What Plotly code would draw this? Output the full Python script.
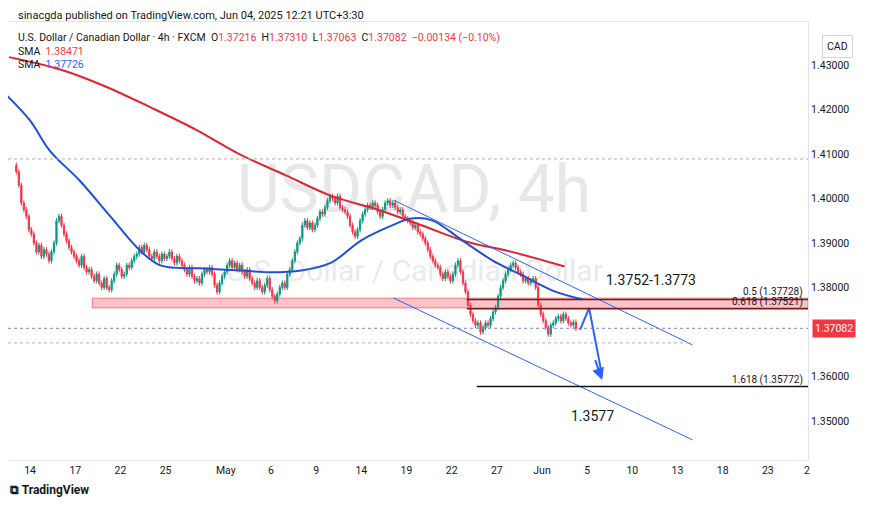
import plotly.graph_objects as go

# daily groups of six 4h closes (trading days starting Fri Apr 11 2025)
closes = [
 1.4060,1.4030,1.3990,1.3975,1.3960,1.3930,
 1.3920,1.3900,1.3880,1.3895,1.3870,1.3885,
 1.3875,1.3860,1.3880,1.3900,1.3950,1.3960,
 1.3940,1.3920,1.3905,1.3890,1.3880,1.3870,
 1.3860,1.3850,1.3870,1.3845,1.3835,1.3840,
 1.3825,1.3815,1.3830,1.3810,1.3800,1.3820,
 1.3800,1.3795,1.3815,1.3830,1.3850,1.3840,
 1.3825,1.3830,1.3850,1.3845,1.3860,1.3870,
 1.3875,1.3890,1.3880,1.3895,1.3885,1.3870,
 1.3865,1.3880,1.3870,1.3860,1.3875,1.3865,
 1.3870,1.3880,1.3865,1.3855,1.3870,1.3860,
 1.3850,1.3840,1.3830,1.3845,1.3825,1.3815,
 1.3820,1.3810,1.3830,1.3840,1.3835,1.3845,
 1.3830,1.3805,1.3790,1.3810,1.3825,1.3835,
 1.3850,1.3860,1.3845,1.3855,1.3840,1.3850,
 1.3835,1.3825,1.3840,1.3820,1.3810,1.3800,
 1.3815,1.3800,1.3790,1.3805,1.3820,1.3795,
 1.3780,1.3770,1.3785,1.3800,1.3810,1.3800,
 1.3830,1.3840,1.3860,1.3880,1.3900,1.3910,
 1.3940,1.3950,1.3935,1.3945,1.3930,1.3940,
 1.3955,1.3970,1.3965,1.3980,1.3995,1.4005,
 1.4000,1.3990,1.4005,1.3980,1.3975,1.3970,
 1.3960,1.3940,1.3925,1.3915,1.3930,1.3950,
 1.3965,1.3975,1.3985,1.3980,1.3990,1.3985,
 1.3970,1.3960,1.3975,1.3990,1.3995,1.3985,
 1.3990,1.3980,1.3970,1.3975,1.3960,1.3955,
 1.3950,1.3945,1.3935,1.3940,1.3925,1.3920,
 1.3910,1.3900,1.3885,1.3870,1.3860,1.3850,
 1.3845,1.3830,1.3820,1.3835,1.3825,1.3815,
 1.3830,1.3850,1.3860,1.3835,1.3810,1.3790,
 1.3760,1.3740,1.3725,1.3715,1.3720,1.3700,
 1.3710,1.3720,1.3715,1.3730,1.3745,1.3755,
 1.3780,1.3800,1.3815,1.3830,1.3840,1.3850,
 1.3855,1.3845,1.3835,1.3830,1.3815,1.3820,
 1.3810,1.3815,1.3820,1.3800,1.3760,1.3740,
 1.3725,1.3710,1.3695,1.3715,1.3720,1.3730,
 1.3735,1.3725,1.3740,1.3730,1.3720,1.3716,
 1.3722,1.3708,
]
first_open = 1.4075
sma_red_days = [-0.4,3,6,9,12,15,18,21,24,27,30,33,36.5]
sma_red = [1.4318,1.4290,1.4252,1.4205,1.4155,1.4098,1.4052,1.4006,1.3976,1.3940,1.3903,1.3880,1.3847]
sma_blue_days = [-0.5,1,2.3,4.3,6.3,8.3,9.7,12.3,15,17,19,21,23,25,26.3,27.7,29.7,31.7,33.7,35.7,37.7]
sma_blue = [1.4230,1.4175,1.4108,1.4040,1.3961,1.3883,1.3849,1.3843,1.3838,1.3834,1.3838,1.3856,1.3906,1.3939,1.3955,1.3951,1.3906,1.3861,1.3827,1.3793,1.3773]
tick_days = [1,4,7,10,14,17,20,23,26,29,32,35,38,41,44,47,50,52.6]
tick_text = ["14","17","22","25","May","6","9","14","19","22","27","Jun","5","10","13","18","23","2"]
price_ticks = [1.35,1.36,1.38,1.39,1.40,1.41,1.42,1.43]

x, o, h, l, c = [], [], [], [], []
prev = first_open
for i, v in enumerate(closes):
    x.append(i // 6 + (i % 6 + 0.5) / 6)
    o.append(prev); c.append(v)
    h.append(max(prev, v) + 0.0006); l.append(min(prev, v) - 0.0006)
    prev = v

fig = go.Figure()
X0, X1 = -0.47, 52.67
fig.add_shape(type="rect", x0=5.13, x1=X1, y0=1.3754, y1=1.3776, fillcolor="rgba(242,54,69,0.3)", line=dict(color="rgba(242,54,69,0.6)", width=1), layer="below")
for yv, col, dash, xa, xb in [(1.4089,"#b0b0b0","dot",X0,X1),(1.37082,"#8080c0","dot",X0,X1),(1.36753,"#b0b0b0","dot",X0,45)]:
    fig.add_shape(type="line", x0=xa, x1=xb, y0=yv, y1=yv, line=dict(color=col, width=1, dash=dash))
fig.add_trace(go.Candlestick(x=x, open=o, high=h, low=l, close=c,
    increasing=dict(line=dict(color="#089981", width=1), fillcolor="#089981"),
    decreasing=dict(line=dict(color="#f23645", width=1), fillcolor="#f23645"),
    whiskerwidth=0, showlegend=False, hoverinfo="skip"))
fig.add_trace(go.Scatter(x=sma_red_days, y=sma_red, mode="lines", line=dict(color="#e0242f", width=2, shape="spline"), showlegend=False))
fig.add_trace(go.Scatter(x=sma_blue_days, y=sma_blue, mode="lines", line=dict(color="#1e4fd6", width=2, shape="spline"), showlegend=False))
# drawings
fig.add_trace(go.Scatter(x=[25.13,45], y=[1.39967,1.36708], mode="lines", line=dict(color="#2962ff", width=1), showlegend=False))
fig.add_trace(go.Scatter(x=[25.13,45], y=[1.37764,1.34573], mode="lines", line=dict(color="#2962ff", width=1), showlegend=False))
fig.add_trace(go.Scatter(x=[37.53,38.13,39.0], y=[1.37045,1.37539,1.3600], mode="lines", line=dict(color="#2962ff", width=2), showlegend=False))
fig.add_annotation(x=39.0, y=1.3592, ax=38.5, ay=1.3640, xref="x", yref="y", axref="x", ayref="y", showarrow=True, arrowhead=2, arrowsize=1.2, arrowwidth=2, arrowcolor="#2962ff", text="")
for yv, col in [(1.37728,"#7a1a1a"),(1.37521,"#7a1a1a")]:
    fig.add_shape(type="line", x0=30, x1=X1, y0=yv, y1=yv, line=dict(color=col, width=1.5))
fig.add_shape(type="line", x0=30.67, x1=X1, y0=1.35772, y1=1.35772, line=dict(color="#111", width=1.5))

def ann(xv, yv, t, size=11, color="#131722", bold=False, xanchor="left", xref="x", yref="y"):
    fig.add_annotation(x=xv, y=yv, xref=xref, yref=yref, text=f"<b>{t}</b>" if bold else t, showarrow=False,
                       font=dict(size=size, color=color), xanchor=xanchor)
ann(39.1, 1.3816, "1.3752-1.3773", 14)
ann(52.5, 1.3790, "0.5 (1.37728)", 10, xanchor="right")
ann(52.5, 1.3768, "0.618 (1.37521)", 10, xanchor="right")
ann(52.5, 1.3593, "1.618 (1.35772)", 10, xanchor="right")
ann(36.8, 1.3510, "1.3577", 14)
ann(26.5, 1.4020, "USDCAD, 4h", 66, color="rgba(120,123,134,0.18)", xanchor="center")
ann(26.5, 1.3838, "U.S. Dollar / Canadian Dollar", 30, color="rgba(120,123,134,0.18)", xanchor="center")

fig.add_annotation(x=0.01, y=1.0, xref="paper", yref="paper", yshift=-2, xanchor="left", yanchor="bottom", showarrow=False, text="sinacgda published on TradingView.com, Jun 04, 2025 12:21 UTC+3:30", font=dict(size=11, color="#131722"))
fig.add_annotation(x=0.01, y=0.985, xref="paper", yref="paper", xanchor="left", yanchor="top", align="left", showarrow=False,
    text="U.S. Dollar / Canadian Dollar · 4h · FXCM  O<span style='color:#f23645'>1.37216</span>  H<span style='color:#f23645'>1.37310</span>  L<span style='color:#f23645'>1.37063</span>  C<span style='color:#f23645'>1.37082</span>  <span style='color:#f23645'>−0.00134 (−0.10%)</span><br>SMA  <span style='color:#f23645'>1.38471</span><br>SMA  <span style='color:#2962ff'>1.37726</span>",
    font=dict(size=10.5, color="#131722"))
fig.add_annotation(x=1.0, y=1.37082, xref="paper", yref="y", xanchor="left", showarrow=False, xshift=4, text="1.37082", bgcolor="#f23645", font=dict(size=10.5, color="white"), borderpad=2)
fig.add_annotation(x=1.0, y=0.97, xref="paper", yref="paper", xanchor="left", showarrow=False, xshift=14, text="CAD", bordercolor="#d1d4dc", borderwidth=1, borderpad=4, font=dict(size=10.5, color="#131722"))
fig.add_annotation(x=0.0, y=-0.09, xref="paper", yref="paper", xanchor="left", showarrow=False, text="<b>⧉ TradingView</b>", font=dict(size=12, color="#131722"))

fig.update_layout(width=870, height=514, margin=dict(l=0, r=70, t=14, b=62), paper_bgcolor="white", plot_bgcolor="white",
    font=dict(family="Roboto, Arial", color="#131722"),
    xaxis=dict(range=[X0, X1], tickvals=tick_days, ticktext=tick_text, showgrid=False, zeroline=False, rangeslider=dict(visible=False),
               ticks="", tickfont=dict(size=10.5), showline=True, linecolor="#e0e3eb", mirror=True),
    yaxis=dict(range=[1.3412, 1.4397], side="right", tickvals=price_ticks, ticktext=[f"{p:.5f}" for p in price_ticks], showgrid=False,
               zeroline=False, ticks="", tickfont=dict(size=10.5), showline=True, linecolor="#e0e3eb", mirror=True))
fig.write_html("out.html")
